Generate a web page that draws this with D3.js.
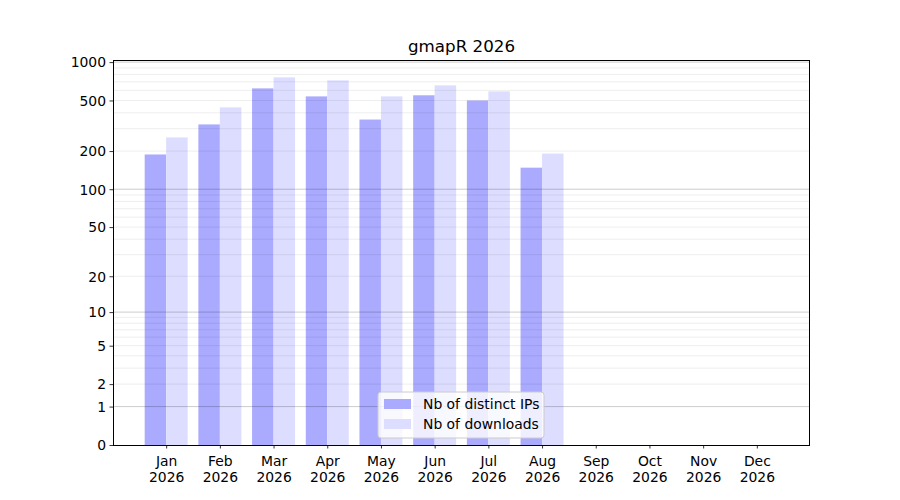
<!DOCTYPE html>
<html>
<head>
<meta charset="utf-8">
<script src="https://cdn.jsdelivr.net/npm/d3@7"></script>
<style>
  body { margin: 0; background: #fff; }
  text { font-family: "DejaVu Sans", sans-serif; fill: #000; }
</style>
</head>
<body>
<div id="chart"></div>
<script>
const months = ["Jan", "Feb", "Mar", "Apr", "May", "Jun", "Jul", "Aug", "Sep", "Oct", "Nov", "Dec"];
const year = "2026";
const distinctIPs = [188, 324, 622, 538, 354, 549, 500, 148, 0, 0, 0, 0]; // Nb of distinct IPs
const downloads = [256, 441, 759, 719, 538, 657, 589, 191, 0, 0, 0, 0]; // Nb of downloads
const yTicks = [0, 1, 2, 5, 10, 20, 50, 100, 200, 500, 1000];
const majorGrid = [1, 10, 100, 1000];
const minorGrid = [2, 3, 4, 5, 6, 7, 8, 9, 20, 30, 40, 50, 60, 70, 80, 90, 200, 300, 400, 500, 600, 700, 800, 900];

let width = 900,
    height = 500,
    margin = {top: 61, right: 90, bottom: 55, left: 113};

let svg = d3.select('#chart')
  .append('svg')
  .attr('width', width)
  .attr('height', height);

let x = d3.scaleLinear()
  .domain([-0.99, 11.99])
  .range([margin.left, width - margin.right]);

let y = d3.scaleSymlog()
  .constant(1)
  .domain([0, 1020])
  .range([height - margin.bottom, margin.top]);

let barW = x(0.4) - x(0);

// bars
svg.append('g').selectAll('rect')
  .data(distinctIPs)
  .enter()
  .append('rect')
  .attr('x', (d, i) => x(i - 0.4))
  .attr('y', d => y(d))
  .attr('width', barW)
  .attr('height', d => y(0) - y(d))
  .attr('fill', '#aaaaff');

svg.append('g').selectAll('rect')
  .data(downloads)
  .enter()
  .append('rect')
  .attr('x', (d, i) => x(i))
  .attr('y', d => y(d))
  .attr('width', barW)
  .attr('height', d => y(0) - y(d))
  .attr('fill', '#ddddff');

// grid on top of bars
let grid = svg.append('g');
grid.selectAll('.minor')
  .data(minorGrid)
  .enter()
  .append('line')
  .attr('x1', margin.left).attr('x2', width - margin.right)
  .attr('y1', d => y(d)).attr('y2', d => y(d))
  .attr('stroke', 'rgba(0,0,0,0.07)')
  .attr('stroke-width', 1);
grid.selectAll('.major')
  .data(majorGrid)
  .enter()
  .append('line')
  .attr('x1', margin.left).attr('x2', width - margin.right)
  .attr('y1', d => y(d)).attr('y2', d => y(d))
  .attr('stroke', 'rgba(0,0,0,0.2)')
  .attr('stroke-width', 1);

// axes
let yAxis = svg.append('g')
  .attr('transform', 'translate(' + margin.left + ',0)')
  .call(d3.axisLeft(y).tickValues(yTicks).tickFormat(d3.format('d')).tickSize(3.5).tickPadding(3.5));

let xAxis = svg.append('g')
  .attr('transform', 'translate(0,' + (height - margin.bottom) + ')')
  .call(d3.axisBottom(x).tickValues(d3.range(12)).tickFormat('').tickSize(3.5));

xAxis.selectAll('.tick')
  .append('text')
  .attr('text-anchor', 'middle')
  .attr('font-size', '13.9px')
  .selectAll('tspan')
  .data(i => [months[i], year])
  .enter()
  .append('tspan')
  .attr('x', 0)
  .attr('y', (d, j) => 21 + j * 16)
  .text(d => d);

svg.selectAll('.domain').remove();
svg.selectAll('.tick line').attr('stroke', '#000').attr('stroke-width', 0.8);
yAxis.selectAll('text').attr('font-size', '13.9px').attr('dy', '0.35em');

// frame
svg.append('rect')
  .attr('x', margin.left + 0.5)
  .attr('y', margin.top - 0.5)
  .attr('width', width - margin.left - margin.right - 1)
  .attr('height', height - margin.top - margin.bottom + 0.5)
  .attr('fill', 'none')
  .attr('stroke', '#000')
  .attr('stroke-width', 1)
  .attr('shape-rendering', 'crispEdges');

// title
svg.append('text')
  .attr('x', (margin.left + width - margin.right) / 2)
  .attr('y', 52)
  .attr('text-anchor', 'middle')
  .attr('font-size', '16.7px')
  .text('gmapR ' + year);

// legend
let legend = svg.append('g').attr('transform', 'translate(378,392)');
legend.append('rect')
  .attr('width', 166).attr('height', 46)
  .attr('rx', 3)
  .attr('fill', 'rgba(255,255,255,0.8)')
  .attr('stroke', '#cccccc');
let items = [['Nb of distinct IPs', '#aaaaff'], ['Nb of downloads', '#ddddff']];
items.forEach(function(it, i) {
  legend.append('rect')
    .attr('x', 6).attr('y', 7 + i * 20)
    .attr('width', 27).attr('height', 10)
    .attr('fill', it[1]);
  legend.append('text')
    .attr('x', 45).attr('y', 12 + i * 20)
    .attr('dy', '0.35em')
    .attr('font-size', '13.9px')
    .text(it[0]);
});
</script>
</body>
</html>
